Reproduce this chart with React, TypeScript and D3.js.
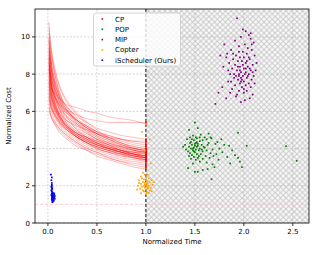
import React from 'react'
import * as d3 from 'd3'

const W = 319
const H = 255
const margin = {top: 9, right: 10, bottom: 32, left: 35}

// shared time grid for the CP anytime curves
const cpTimes = [0.01, 0.03, 0.06, 0.1, 0.15, 0.22, 0.3, 0.4, 0.5, 0.62, 0.75, 0.88, 1.0]
const cpRuns = [
  [10.8, 9.6, 8.6, 7.7, 7.0, 6.4, 5.9, 5.4, 5.0, 4.6, 4.3, 4.0, 3.9],
  [9.9, 9.0, 8.2, 7.4, 6.6, 6.0, 5.5, 5.1, 4.7, 4.4, 4.1, 3.9, 3.7],
  [9.5, 8.4, 7.5, 6.8, 6.2, 5.7, 5.3, 4.9, 4.6, 4.3, 4.0, 3.8, 3.6],
  [8.9, 8.0, 7.3, 6.6, 6.0, 5.6, 5.2, 4.8, 4.5, 4.2, 3.9, 3.7, 3.5],
  [8.5, 7.6, 6.9, 6.3, 5.8, 5.4, 5.0, 4.7, 4.4, 4.1, 3.9, 3.7, 3.6],
  [8.2, 7.5, 6.9, 6.4, 5.9, 5.5, 5.1, 4.8, 4.5, 4.3, 4.1, 3.9, 3.8],
  [7.9, 7.2, 6.6, 6.0, 5.5, 5.1, 4.8, 4.5, 4.2, 4.0, 3.8, 3.6, 3.4],
  [7.6, 7.0, 6.4, 5.9, 5.5, 5.1, 4.8, 4.5, 4.3, 4.1, 3.9, 3.8, 3.7],
  [7.3, 6.6, 6.1, 5.6, 5.2, 4.9, 4.6, 4.3, 4.0, 3.8, 3.6, 3.5, 3.3],
  [7.0, 6.4, 5.9, 5.5, 5.1, 4.8, 4.5, 4.2, 4.0, 3.8, 3.7, 3.5, 3.4],
  [6.7, 6.1, 5.6, 5.2, 4.9, 4.6, 4.3, 4.0, 3.8, 3.6, 3.4, 3.3, 3.2],
  [6.4, 5.8, 5.4, 5.0, 4.7, 4.4, 4.1, 3.9, 3.6, 3.4, 3.2, 3.0, 2.9],
  [10.2, 9.3, 8.4, 7.6, 6.9, 6.3, 5.8, 5.3, 4.9, 4.6, 4.3, 4.1, 4.0],
  [9.2, 8.2, 7.4, 6.7, 6.2, 5.8, 5.4, 5.1, 4.8, 4.6, 4.4, 4.2, 4.1],
  [8.7, 7.9, 7.1, 6.5, 6.1, 5.8, 5.5, 5.2, 4.9, 4.7, 4.5, 4.4, 4.3],
  [8.0, 7.4, 6.9, 6.5, 6.2, 6.0, 5.8, 5.6, 5.5, 5.4, 5.4, 5.4, 5.4],
  [7.7, 7.3, 7.0, 6.8, 6.5, 6.3, 6.2, 6.0, 5.9, 5.7, 5.6, 5.5, 5.3],
  [9.7, 8.6, 7.6, 6.8, 6.1, 5.5, 5.0, 4.6, 4.3, 4.0, 3.8, 3.6, 3.5],
  [8.8, 7.7, 6.8, 6.1, 5.5, 5.0, 4.6, 4.3, 4.0, 3.8, 3.6, 3.5, 3.4],
  [8.3, 7.3, 6.5, 5.9, 5.4, 5.0, 4.6, 4.3, 4.1, 3.9, 3.7, 3.6, 3.5],
  [7.5, 6.8, 6.2, 5.7, 5.3, 5.0, 4.7, 4.4, 4.2, 4.0, 3.9, 3.8, 3.7],
  [6.9, 6.3, 5.8, 5.4, 5.0, 4.7, 4.4, 4.1, 3.9, 3.7, 3.5, 3.4, 3.3],
  [6.2, 5.8, 5.5, 5.2, 4.9, 4.6, 4.3, 4.0, 3.8, 3.5, 3.3, 3.1, 3.0],
  [9.0, 8.1, 7.2, 6.4, 5.8, 5.3, 4.9, 4.6, 4.3, 4.1, 3.9, 3.8, 3.8],
  [8.6, 7.8, 7.0, 6.3, 5.7, 5.2, 4.8, 4.5, 4.2, 4.0, 3.8, 3.6, 3.5],
  [7.8, 7.0, 6.3, 5.8, 5.3, 4.9, 4.6, 4.3, 4.1, 3.9, 3.8, 3.7, 3.6],
  [10.5, 9.4, 8.3, 7.3, 6.5, 5.9, 5.4, 5.0, 4.6, 4.3, 4.1, 3.9, 3.8],
  [9.4, 8.7, 7.9, 7.1, 6.4, 5.9, 5.5, 5.1, 4.8, 4.5, 4.2, 4.0, 3.9],
  [8.1, 7.2, 6.5, 5.9, 5.5, 5.1, 4.8, 4.6, 4.4, 4.2, 4.0, 3.9, 3.8],
  [7.2, 6.7, 6.2, 5.8, 5.4, 5.1, 4.8, 4.6, 4.4, 4.2, 4.1, 4.0, 3.9],
  [6.6, 6.2, 5.9, 5.6, 5.3, 5.0, 4.7, 4.5, 4.3, 4.1, 3.9, 3.7, 3.6],
  [9.8, 8.7, 7.8, 7.0, 6.3, 5.8, 5.3, 4.9, 4.5, 4.2, 3.9, 3.7, 3.5],
  [8.4, 7.5, 6.7, 6.1, 5.6, 5.2, 4.9, 4.6, 4.3, 4.0, 3.8, 3.7, 3.6],
  [7.4, 6.9, 6.4, 6.0, 5.7, 5.4, 5.2, 5.0, 4.8, 4.6, 4.5, 4.4, 4.4],
  [6.0, 5.7, 5.4, 5.1, 4.8, 4.5, 4.2, 3.9, 3.7, 3.5, 3.3, 3.2, 3.1],
  [9.1, 8.3, 7.6, 7.0, 6.5, 6.1, 5.7, 5.4, 5.1, 4.9, 4.7, 4.6, 4.5],
  [10.0, 8.8, 7.9, 7.2, 6.6, 6.1, 5.6, 5.2, 4.8, 4.5, 4.2, 4.0, 3.8],
  [8.9, 7.6, 6.7, 6.0, 5.5, 5.1, 4.7, 4.4, 4.1, 3.9, 3.7, 3.5, 3.4],
  [7.6, 6.9, 6.3, 5.8, 5.4, 5.0, 4.7, 4.4, 4.2, 4.0, 3.8, 3.7, 3.6],
  [8.3, 7.6, 7.0, 6.5, 6.0, 5.6, 5.3, 5.0, 4.7, 4.4, 4.2, 4.0, 3.9],
  [9.3, 8.4, 7.7, 7.0, 6.4, 5.9, 5.5, 5.1, 4.8, 4.5, 4.3, 4.1, 4.0],
  [7.1, 6.5, 6.0, 5.6, 5.2, 4.9, 4.6, 4.4, 4.2, 4.0, 3.8, 3.6, 3.5],
  [6.8, 6.3, 5.9, 5.5, 5.2, 4.9, 4.6, 4.3, 4.1, 3.9, 3.7, 3.6, 3.5],
  [8.6, 7.9, 7.3, 6.8, 6.3, 5.9, 5.5, 5.2, 4.9, 4.7, 4.5, 4.3, 4.2]
]

const popPoints = [
  [1.50, 5.4], [1.44, 5.0], [1.53, 5.1], [1.94, 4.85], [1.64, 4.8], [1.48, 4.7], [1.56, 4.75], [1.60, 4.6],
  [1.45, 4.6], [1.52, 4.55], [1.67, 4.55], [1.62, 4.5], [1.42, 4.5], [1.49, 4.45], [1.55, 4.4], [1.58, 4.45],
  [1.46, 4.35], [1.51, 4.3], [1.53, 4.25], [1.64, 4.3], [1.71, 4.25], [1.40, 4.2], [1.47, 4.2], [1.50, 4.15],
  [1.57, 4.2], [1.44, 4.1], [1.49, 4.05], [1.52, 4.1], [1.55, 4.0], [1.85, 4.15], [1.80, 4.2], [2.03, 4.15],
  [1.38, 4.1], [1.46, 4.0], [1.51, 3.95], [1.48, 3.9], [1.54, 3.9], [1.43, 3.85], [1.50, 3.8], [1.58, 3.85],
  [1.62, 3.9], [1.68, 3.95], [1.75, 4.0], [1.45, 3.75], [1.52, 3.7], [1.47, 3.65], [1.56, 3.7], [1.61, 3.6],
  [1.49, 3.55], [1.53, 3.5], [1.66, 3.75], [1.72, 3.7], [1.78, 3.8], [1.91, 3.65], [1.46, 3.45], [1.51, 3.4],
  [1.58, 3.45], [1.65, 3.5], [1.83, 3.55], [1.74, 3.4], [1.94, 3.5], [1.55, 3.3], [1.62, 3.25], [1.48, 3.2],
  [1.68, 3.15], [1.86, 3.2], [1.98, 3.0], [1.70, 3.0], [1.63, 2.9], [1.58, 2.85], [1.53, 2.75], [1.50, 2.75],
  [1.67, 2.35], [1.43, 2.95], [1.66, 4.6], [1.59, 4.1], [1.52, 4.35], [1.47, 4.5], [1.55, 4.6], [1.49, 3.85],
  [1.53, 4.15], [1.45, 4.3], [1.57, 3.95], [1.60, 4.05], [1.50, 4.25], [1.48, 4.0], [1.54, 3.6], [2.43, 4.13],
  [2.54, 3.34], [1.73, 4.35], [1.88, 3.9], [1.41, 3.95], [1.44, 3.6], [1.51, 4.6], [1.63, 4.2], [1.96, 3.3],
  [1.77, 4.5], [1.69, 3.6]
]

const mipPoints = [
  [1.93, 11.0], [2.02, 10.3], [2.05, 10.1], [1.97, 10.0], [2.07, 9.9], [1.80, 9.6], [1.91, 9.8], [2.10, 9.7],
  [1.95, 9.5], [2.01, 9.6], [1.87, 9.3], [2.04, 9.4], [1.99, 9.2], [2.08, 9.3], [1.83, 9.1], [1.92, 9.0],
  [2.03, 9.1], [1.96, 8.9], [2.11, 9.0], [1.89, 8.8], [2.00, 8.9], [2.06, 8.8], [1.94, 8.7], [1.85, 8.6],
  [1.98, 8.7], [2.02, 8.6], [2.09, 8.5], [1.91, 8.5], [1.96, 8.4], [2.04, 8.4], [1.88, 8.3], [2.00, 8.3],
  [1.93, 8.2], [2.07, 8.2], [1.97, 8.1], [2.02, 8.1], [1.86, 8.0], [1.95, 8.0], [2.05, 8.0], [1.99, 7.9],
  [2.10, 7.9], [1.90, 7.8], [1.97, 7.8], [2.03, 7.8], [1.94, 7.7], [2.08, 7.7], [1.84, 7.6], [2.00, 7.6],
  [1.96, 7.5], [2.05, 7.5], [1.91, 7.4], [2.02, 7.4], [1.78, 7.3], [1.98, 7.3], [2.07, 7.3], [1.88, 7.2],
  [1.95, 7.1], [2.03, 7.1], [1.74, 7.0], [2.00, 7.0], [2.09, 6.9], [1.92, 6.8], [1.82, 6.7], [2.01, 6.6],
  [1.97, 6.5], [2.06, 6.7], [1.71, 6.4], [1.86, 7.0], [1.79, 8.4], [1.76, 9.0], [2.13, 8.6], [2.12, 8.2],
  [1.99, 8.5], [1.94, 8.4], [2.01, 8.0], [1.98, 7.7], [2.04, 7.9], [1.96, 8.2], [2.06, 8.3], [1.92, 7.9],
  [1.89, 9.1], [2.08, 9.6], [1.84, 8.2], [2.03, 8.7], [1.95, 9.2], [2.00, 7.2], [1.93, 6.9], [2.11, 7.5],
  [1.87, 7.6], [2.05, 8.9], [1.82, 8.9], [1.99, 10.4], [2.07, 10.2], [1.90, 8.0], [2.02, 8.3], [1.97, 7.6],
  [1.95, 7.9], [2.09, 8.1]
]

const copterPoints = [
  [1.00, 5.3], [0.96, 4.9], [1.04, 4.5], [0.99, 3.9], [1.05, 3.2], [0.97, 2.7], [1.02, 2.6], [0.95, 2.5],
  [1.00, 2.45], [1.03, 2.4], [0.98, 2.35], [1.06, 2.3], [0.93, 2.3], [1.01, 2.25], [0.97, 2.2], [1.04, 2.2],
  [0.99, 2.15], [1.02, 2.1], [0.95, 2.1], [1.00, 2.05], [1.07, 2.05], [0.98, 2.0], [1.03, 2.0], [0.92, 2.0],
  [1.01, 1.95], [0.96, 1.95], [1.05, 1.9], [0.99, 1.9], [0.94, 1.85], [1.02, 1.85], [1.00, 1.8], [0.97, 1.75],
  [1.04, 1.75], [0.91, 1.8], [1.06, 1.7], [0.98, 1.7], [1.01, 1.65], [0.95, 1.6], [1.03, 1.6], [1.00, 2.3],
  [1.01, 2.15], [0.99, 2.05], [1.02, 1.95], [0.96, 2.4], [1.08, 2.2], [0.93, 2.15], [1.00, 1.55], [0.99, 2.6]
]

const oursPoints = [
  [0.03, 2.6], [0.04, 2.45], [0.035, 2.3], [0.04, 2.15], [0.04, 2.05], [0.035, 1.95], [0.04, 1.9], [0.045, 1.85],
  [0.04, 1.8], [0.035, 1.75], [0.04, 1.7], [0.045, 1.65], [0.04, 1.6], [0.05, 1.6], [0.06, 1.6], [0.065, 1.55],
  [0.04, 1.55], [0.045, 1.5], [0.055, 1.5], [0.07, 1.45], [0.04, 1.45], [0.05, 1.4], [0.06, 1.4], [0.045, 1.35],
  [0.065, 1.35], [0.04, 1.3], [0.055, 1.3], [0.05, 1.25], [0.045, 1.2], [0.06, 1.2], [0.05, 1.15], [0.045, 1.12],
  [0.04, 1.4], [0.04, 1.25], [0.035, 1.5], [0.07, 1.3], [0.055, 1.45], [0.04, 2.0]
]

const legendLabels = ['CP', 'POP', 'MIP', 'Copter', 'iScheduler (Ours)']
const legendColors = ['#ff0000', '#008000', '#800080', '#ffa500', '#0000ff']
const xTicks = [0, 0.5, 1, 1.5, 2, 2.5]
const yTicks = [0, 2, 4, 6, 8, 10]

export default function App() {
  const x = d3.scaleLinear().domain([-0.132, 2.665]).range([margin.left, W - margin.right])
  const y = d3.scaleLinear().domain([0, 11.5]).range([H - margin.bottom, margin.top])
  const [x0, x1] = x.range()
  const [yb, yt] = y.range()

  const cpLine = d3
    .line<number>()
    .x((_, i) => x(cpTimes[i]))
    .y(d => y(d))
    .curve(d3.curveMonotoneX)

  const font = 'DejaVu Sans, sans-serif'
  const dot = (pts: number[][], color: string, key: string) =>
    pts.map((p, i) => (
      <rect key={key + i} x={x(p[0]) - 0.85} y={y(p[1]) - 0.85} width={1.7} height={1.7} fill={color} />
    ))

  return (
    <svg width={W} height={H} style={{position: 'absolute', left: 0, top: 0}} fontFamily={font}>
      <defs>
        <pattern id="hatch" width={5.5} height={5.5} patternUnits="userSpaceOnUse">
          <rect width={5.5} height={5.5} fill="#f8f8f8" />
          <path d="M0,0L5.5,5.5M5.5,0L0,5.5" stroke="#cbcbcb" strokeWidth={1} />
        </pattern>
        <clipPath id="plot">
          <rect x={x0} y={yt} width={x1 - x0} height={yb - yt} />
        </clipPath>
      </defs>
      <rect width={W} height={H} fill="#fff" />
      <rect x={x(1)} y={yt} width={x1 - x(1)} height={yb - yt} fill="url(#hatch)" />

      {/* grid */}
      <g stroke="#b8b8b8" strokeWidth={0.6} strokeDasharray="2,1.5">
        {xTicks.map(t => (
          <line key={'gx' + t} x1={x(t)} x2={x(t)} y1={yt} y2={yb} />
        ))}
        {yTicks.map(t => (
          <line key={'gy' + t} x1={x0} x2={x1} y1={y(t)} y2={y(t)} />
        ))}
      </g>

      <line x1={x0} x2={x1} y1={y(1)} y2={y(1)} stroke="#ffc0cb" strokeWidth={0.8} strokeDasharray="3,2" />

      <g clipPath="url(#plot)">
        {cpRuns.map((r, i) => (
          <path key={'cp' + i} d={cpLine(r) || ''} fill="none" stroke="#ff0000" strokeOpacity={0.3} strokeWidth={0.85} />
        ))}
        <line x1={x(1)} x2={x(1)} y1={yt} y2={yb} stroke="#000" strokeWidth={0.9} strokeDasharray="3,2" />
        {dot(cpRuns.map(r => [1, r[r.length - 1]]), '#ff0000', 'cpe')}
        {dot(popPoints, '#008000', 'pop')}
        {dot(mipPoints, '#800080', 'mip')}
        {dot(copterPoints, '#ffa500', 'cop')}
        {dot(oursPoints, '#0000ff', 'our')}
      </g>

      {/* spines */}
      <rect x={x0} y={yt} width={x1 - x0} height={yb - yt} fill="none" stroke="#000" strokeWidth={0.8} />

      {/* ticks */}
      <g fontSize={7} fill="#000">
        {xTicks.map(t => (
          <g key={'xt' + t}>
            <line x1={x(t)} x2={x(t)} y1={yb} y2={yb + 3} stroke="#000" strokeWidth={0.8} />
            <text x={x(t)} y={yb + 10.5} textAnchor="middle">{d3.format('.1f')(t)}</text>
          </g>
        ))}
        {yTicks.map(t => (
          <g key={'yt' + t}>
            <line x1={x0 - 3} x2={x0} y1={y(t)} y2={y(t)} stroke="#000" strokeWidth={0.8} />
            <text x={x0 - 5} y={y(t) + 2.5} textAnchor="end">{t}</text>
          </g>
        ))}
        <text x={(x0 + x1) / 2} y={yb + 21} textAnchor="middle">Normalized Time</text>
        <text transform={`translate(11,${(yt + yb) / 2}) rotate(-90)`} textAnchor="middle">Normalized Cost</text>
      </g>

      {/* legend */}
      <g transform="translate(93.5,13)">
        <rect width={87} height={53} rx={2} fill="#fff" fillOpacity={0.8} stroke="#cccccc" strokeWidth={0.8} />
        {legendLabels.map((l, i) => (
          <g key={l} transform={`translate(0,${6 + i * 10.3})`}>
            <rect x={8} y={-0.8} width={1.6} height={1.6} fill={legendColors[i]} />
            <text x={21.5} y={2.5} fontSize={7} fill="#000">{l}</text>
          </g>
        ))}
      </g>
    </svg>
  )
}
